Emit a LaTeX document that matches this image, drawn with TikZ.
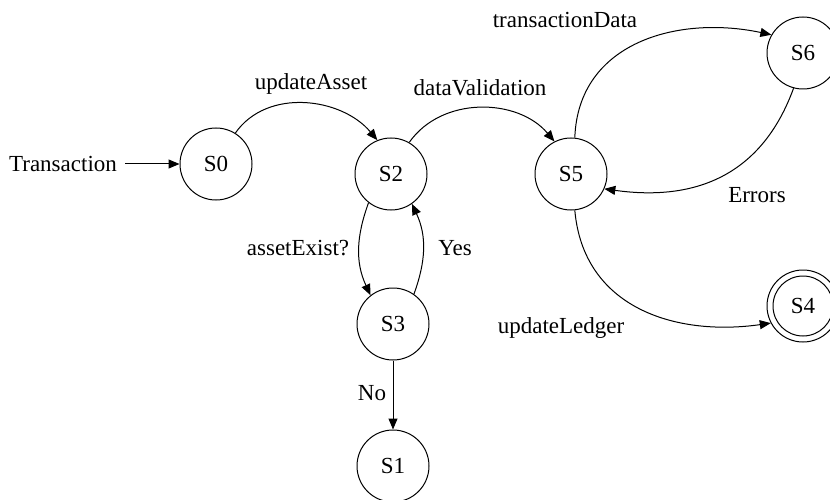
\documentclass[tikz,border=0pt]{standalone}
\usepackage{fontspec}
\setmainfont{Liberation Serif}
\usetikzlibrary{arrows.meta}

\begin{document}
\begin{tikzpicture}[x=1pt,y=-1pt,
    every node/.style={font=\fontsize{23}{27}\selectfont},
    st/.style={draw, circle, line width=1pt, minimum size=72pt, inner sep=0pt},
    lbl/.style={inner sep=0pt},
    tr/.style={line width=1pt, -{Triangle[length=11pt,width=9pt]}}]
  \useasboundingbox (0,0) rectangle (830,500);

  % states
  \node[st] (S0) at (216,164) {S0};
  \node[st] (S2) at (391,174) {S2};
  \node[st] (S5) at (571,174) {S5};
  \node[st] (S6) at (803,53) {S6};
  \node[st] (S3) at (393,324) {S3};
  \node[st] (S1) at (393,466) {S1};
  \node[st] (S4) at (803,306) {S4};
  \draw[line width=1pt] (S4.center) circle (30);

  % entry
  \node[lbl] (start) at (63,164) {Transaction};
  \draw[tr] ([xshift=8pt]start.east) -- (S0);

  % transitions
  \draw[tr] (S0.58) to[out=55,in=130] (S2.112);
  \draw[tr] (S2.60) to[out=55,in=130] (S5.117);
  \draw[tr] (S5.84) to[out=88,in=168,looseness=1.1] (S6.150);
  \draw[tr] (S6.255) to[out=-110,in=-8,looseness=1.1] (S5.-24);
  \draw[tr] (S5.-84) to[out=-85,in=188,looseness=1.1] (S4.208);
  \draw[tr] (S2.232) to[out=-110,in=115] (S3.128);
  \draw[tr] (S3.55) to[out=70,in=-65] (S2.-55);
  \draw[tr] (S3) -- (S1);

  % transition labels
  \node[lbl] (lA) at (311,84) {updateAsset};
  \node[lbl] (lV) at (480,88) {dataValidation};
  \node[lbl] (lT) at (565,20) {transactionData};
  \node[lbl] (lE) at (757,195) {Errors};
  \node[lbl] (lL) at (561,328) {updateLedger};
  \node[lbl] (lQ) at (298,248) {assetExist?};
  \node[lbl] (lY) at (455,248) {Yes};
  \node[lbl] (lN) at (372,393) {No};
\end{tikzpicture}
\end{document}
